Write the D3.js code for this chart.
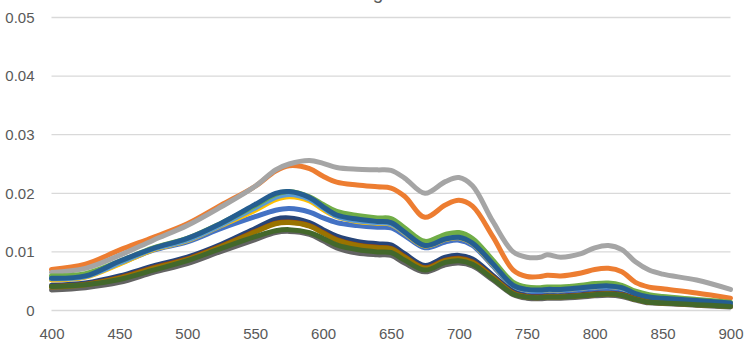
<!DOCTYPE html>
<html><head><meta charset="utf-8">
<script src="https://cdn.jsdelivr.net/npm/d3@7"></script>
<style>html,body{margin:0;padding:0;background:#fff;overflow:hidden}</style>
</head><body>
<svg id="c" width="753" height="357"></svg>
<script>
const wavelengths = [400,425,450,475,500,525,550,565,575,590,600,610,625,640,650,660,675,690,700,710,725,740,750,760,765,775,790,800,810,820,830,840,850,875,900];
const xTicks = [400,450,500,550,600,650,700,750,800,850,900];
const yTicks = [0,0.01,0.02,0.03,0.04,0.05];
const yTickLabels = ["0","0.01","0.02","0.03","0.04","0.05"];
const seriesNames = ["S1","S2","S3","S4","S5","S6","S7","S8","S9","S10","S11","S12"];
const seriesColors = ["#4472C4","#ED7D31","#A5A5A5","#FFC000","#5B9BD5","#70AD47","#264478","#9E480E","#636363","#997300","#255E91","#43682B"];
const s1 = [0.0053,0.0058,0.0080,0.0103,0.0117,0.0140,0.0160,0.0171,0.0174,0.0168,0.0158,0.0150,0.0145,0.0142,0.0141,0.0128,0.0107,0.0117,0.0120,0.0111,0.0076,0.0040,0.0033,0.0032,0.0033,0.0033,0.0035,0.0037,0.0038,0.0035,0.0026,0.0021,0.0019,0.0015,0.0011];
const s2 = [0.0070,0.0079,0.0103,0.0125,0.0148,0.0180,0.0212,0.0238,0.0247,0.0242,0.0229,0.0219,0.0214,0.0211,0.0209,0.0195,0.0159,0.0180,0.0188,0.0178,0.0126,0.0069,0.0058,0.0058,0.0060,0.0059,0.0064,0.0070,0.0072,0.0066,0.0048,0.0040,0.0037,0.0030,0.0021];
const s3 = [0.0065,0.0072,0.0094,0.0120,0.0145,0.0177,0.0212,0.0240,0.0250,0.0256,0.0251,0.0244,0.0241,0.0240,0.0239,0.0226,0.0200,0.0220,0.0227,0.0213,0.0152,0.0100,0.0091,0.0091,0.0095,0.0091,0.0097,0.0107,0.0111,0.0104,0.0083,0.0069,0.0062,0.0052,0.0036];
const s4 = [0.0052,0.0057,0.0079,0.0104,0.0119,0.0145,0.0171,0.0189,0.0194,0.0187,0.0172,0.0160,0.0152,0.0149,0.0147,0.0132,0.0110,0.0121,0.0124,0.0114,0.0078,0.0042,0.0035,0.0034,0.0035,0.0035,0.0038,0.0040,0.0041,0.0038,0.0028,0.0022,0.0020,0.0016,0.0012];
const s5 = [0.0054,0.0058,0.0081,0.0105,0.0120,0.0146,0.0175,0.0193,0.0198,0.0190,0.0175,0.0161,0.0153,0.0150,0.0148,0.0133,0.0111,0.0122,0.0125,0.0115,0.0079,0.0042,0.0035,0.0034,0.0035,0.0035,0.0038,0.0040,0.0041,0.0038,0.0028,0.0022,0.0020,0.0016,0.0012];
const s6 = [0.0059,0.0063,0.0084,0.0107,0.0123,0.0149,0.0179,0.0198,0.0203,0.0194,0.0181,0.0169,0.0162,0.0158,0.0157,0.0141,0.0118,0.0130,0.0133,0.0123,0.0086,0.0048,0.0040,0.0039,0.0040,0.0040,0.0043,0.0046,0.0047,0.0043,0.0033,0.0027,0.0024,0.0019,0.0014];
const s7 = [0.0043,0.0047,0.0059,0.0076,0.0091,0.0113,0.0140,0.0156,0.0158,0.0150,0.0138,0.0127,0.0118,0.0114,0.0112,0.0097,0.0077,0.0091,0.0094,0.0088,0.0060,0.0032,0.0025,0.0024,0.0025,0.0025,0.0027,0.0029,0.0030,0.0028,0.0021,0.0016,0.0014,0.0011,0.0008];
const s8 = [0.0041,0.0045,0.0056,0.0073,0.0088,0.0110,0.0135,0.0149,0.0151,0.0145,0.0133,0.0121,0.0112,0.0108,0.0106,0.0092,0.0073,0.0086,0.0089,0.0083,0.0057,0.0030,0.0024,0.0023,0.0024,0.0024,0.0026,0.0028,0.0029,0.0027,0.0020,0.0015,0.0013,0.0010,0.0007];
const s9 = [0.0035,0.0039,0.0048,0.0065,0.0080,0.0101,0.0121,0.0133,0.0135,0.0130,0.0119,0.0107,0.0098,0.0095,0.0094,0.0081,0.0066,0.0078,0.0081,0.0076,0.0052,0.0027,0.0021,0.0020,0.0021,0.0021,0.0023,0.0025,0.0026,0.0024,0.0018,0.0013,0.0012,0.0009,0.0006];
const s10 = [0.0040,0.0044,0.0055,0.0072,0.0087,0.0109,0.0134,0.0148,0.0150,0.0144,0.0132,0.0120,0.0111,0.0107,0.0105,0.0091,0.0072,0.0085,0.0088,0.0082,0.0056,0.0029,0.0023,0.0022,0.0023,0.0023,0.0025,0.0027,0.0028,0.0026,0.0019,0.0014,0.0013,0.0010,0.0007];
const s11 = [0.0055,0.0059,0.0084,0.0106,0.0123,0.0149,0.0181,0.0200,0.0203,0.0193,0.0177,0.0163,0.0156,0.0152,0.0150,0.0134,0.0111,0.0122,0.0125,0.0115,0.0080,0.0043,0.0036,0.0035,0.0036,0.0036,0.0039,0.0041,0.0042,0.0039,0.0029,0.0023,0.0021,0.0017,0.0013];
const s12 = [0.0041,0.0044,0.0053,0.0069,0.0085,0.0106,0.0126,0.0136,0.0138,0.0133,0.0123,0.0112,0.0104,0.0100,0.0099,0.0086,0.0069,0.0082,0.0085,0.0079,0.0054,0.0028,0.0023,0.0022,0.0023,0.0023,0.0025,0.0027,0.0028,0.0026,0.0019,0.0014,0.0013,0.0010,0.0007];
const seriesValues = [s1,s2,s3,s4,s5,s6,s7,s8,s9,s10,s11,s12];

const svg = d3.select("#c");
const x = d3.scaleLinear().domain([400,900]).range([51.5,730.5]);
const y = d3.scaleLinear().domain([0,0.05]).range([310.5,17.5]);
const font = "'Liberation Sans', Arial, sans-serif";

// chart title: only its lowest part falls inside the picture
svg.append("text").attr("x",378).attr("y",-1).attr("text-anchor","middle")
  .attr("font-family",font).attr("font-size",19).attr("fill","#595959").text("g");

// gridlines
svg.append("g").selectAll("line").data(yTicks).join("line")
  .attr("x1",x(400)).attr("x2",x(900))
  .attr("y1",d=>y(d)).attr("y2",d=>y(d))
  .attr("stroke","#D9D9D9").attr("stroke-width",1.3);

// y axis labels
const yAxis = d3.axisLeft(y).tickValues(yTicks).tickFormat((d,i)=>yTickLabels[i]).tickSize(0).tickPadding(0);
const gy = svg.append("g").attr("transform","translate(34.5,0)").call(yAxis);
gy.select(".domain").remove();
gy.selectAll("text").attr("font-family",font).attr("font-size",15).attr("fill","#595959");

// x axis labels
const xAxis = d3.axisBottom(x).tickValues(xTicks).tickFormat(d3.format("d")).tickSize(0).tickPadding(0);
const gx = svg.append("g").attr("transform","translate(0,328.5)").call(xAxis);
gx.select(".domain").remove();
gx.selectAll("text").attr("font-family",font).attr("font-size",15).attr("fill","#595959");

// lines
const line = d3.line().x((d,i)=>x(wavelengths[i])).y(d=>y(d)).curve(d3.curveCatmullRom.alpha(0.5));
svg.append("g").selectAll("path").data(seriesValues).join("path")
  .attr("d",d=>line(d))
  .attr("fill","none")
  .attr("stroke",(d,i)=>seriesColors[i])
  .attr("stroke-width",5)
  .attr("stroke-linejoin","round")
  .attr("stroke-linecap","round");
</script>
</body></html>
